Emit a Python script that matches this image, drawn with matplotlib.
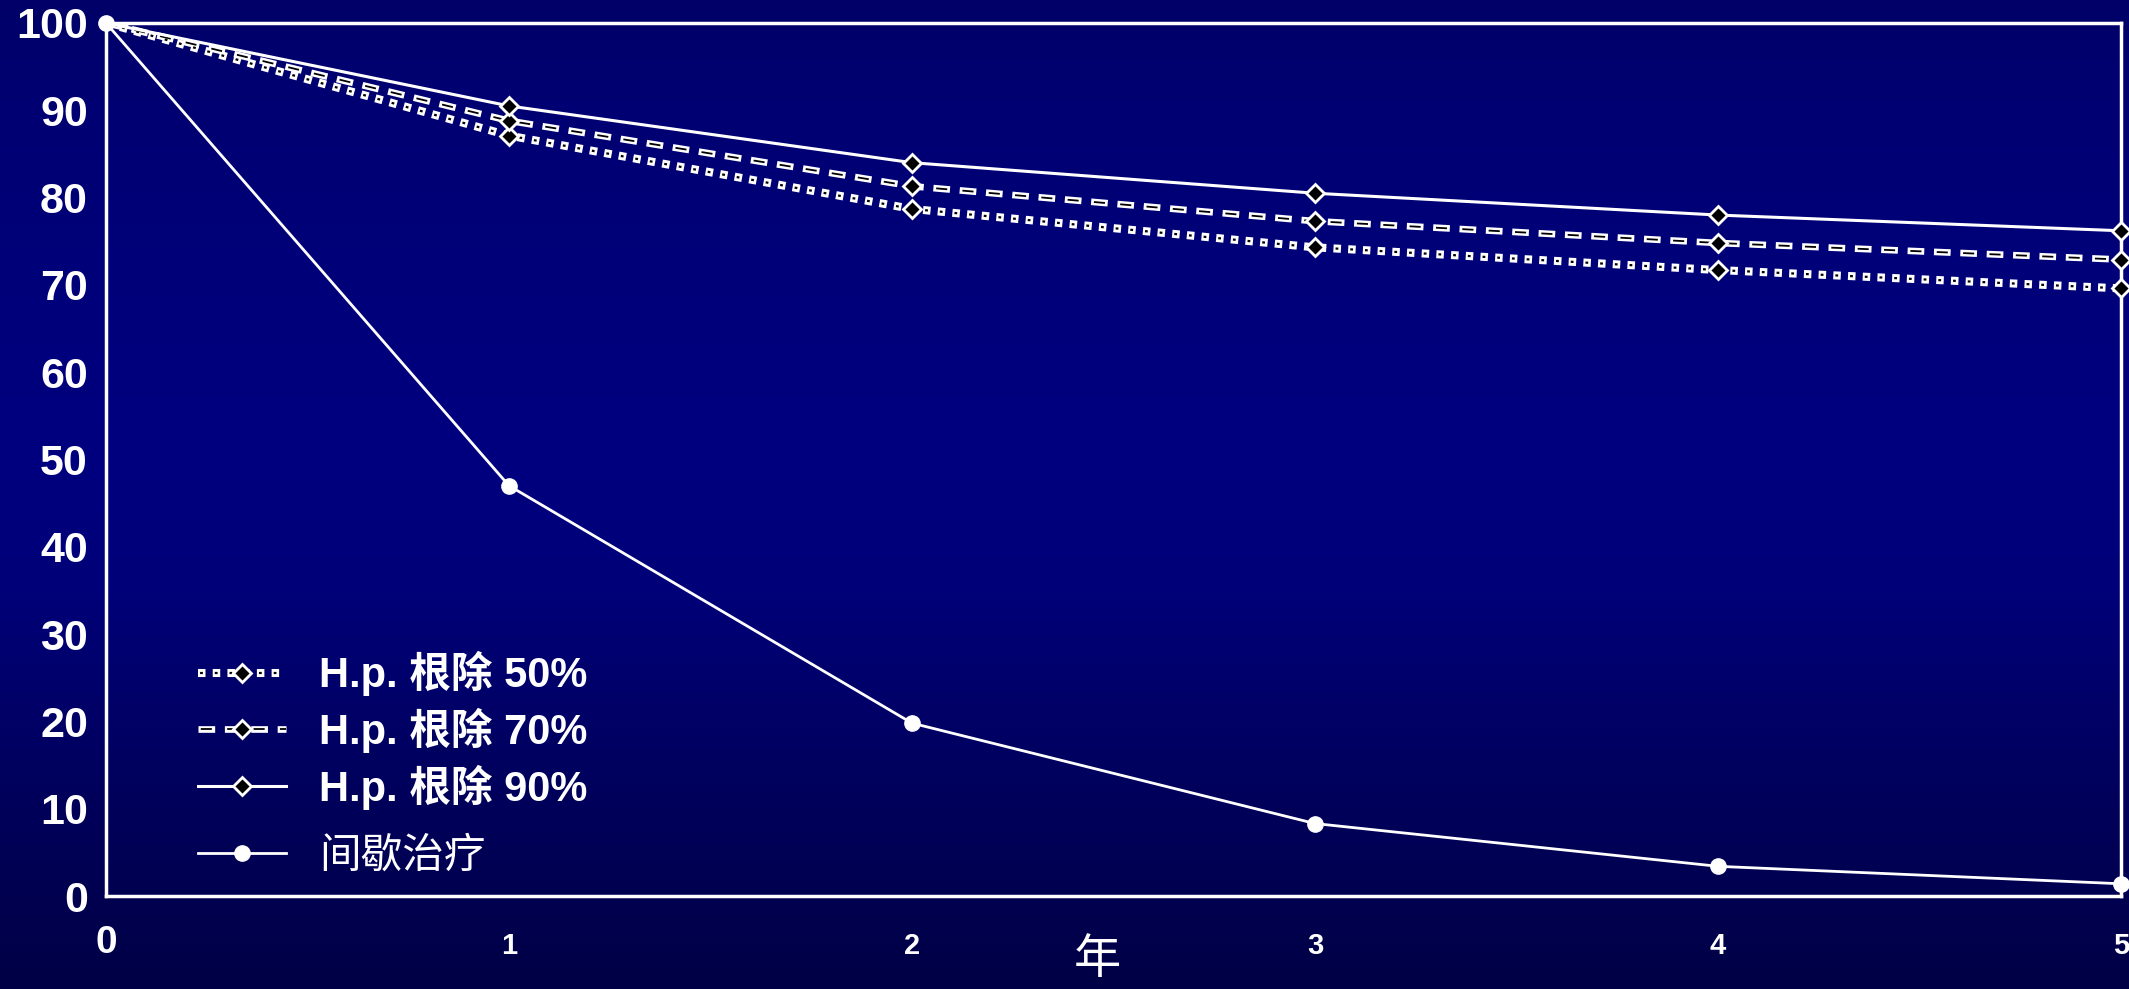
import matplotlib
matplotlib.use('Agg')
import matplotlib.pyplot as plt
import numpy as np

plt.rcParams['font.family'] = ['Liberation Sans', 'Noto Sans CJK SC']
plt.rcParams['lines.scale_dashes'] = False

# 随访年份与各组累计未复发率（%）
years = [0, 1, 2, 3, 4, 5]
hp50 = [100, 87.1, 78.7, 74.3, 71.7, 69.6]
hp70 = [100, 88.8, 81.3, 77.3, 74.8, 72.9]
hp90 = [100, 90.5, 84.0, 80.5, 78.0, 76.2]
intermittent = [100, 47.0, 19.8, 8.3, 3.4, 1.4]
labels = ['H.p. 根除 50%', 'H.p. 根除 70%', 'H.p. 根除 90%', '间歇治疗']
yticks = list(range(0, 101, 10))

W, H = 2129, 989
fig = plt.figure(figsize=(W / 100, H / 100), dpi=100)

# 背景：上下深蓝、中间偏亮的竖向渐变
bg = fig.add_axes([0, 0, 1, 1], zorder=-10)
rows = np.linspace(0, 1, 400)
blue = np.interp(rows, [0, 0.1, 0.45, 0.6, 0.8, 1.0],
                 [0x68, 0x72, 0x80, 0x78, 0x5c, 0x46]) / 255
img = np.zeros((400, 2, 3))
img[:, :, 2] = blue[:, None]
bg.imshow(img, aspect='auto', extent=[0, 1, 0, 1])
bg.axis('off')

ax = fig.add_axes([106 / W, 1 - 896 / H, (2121 - 106) / W, (896 - 23) / H])
ax.patch.set_alpha(0)

dia = dict(marker='D', markersize=9, markerfacecolor='black',
           markeredgecolor='white', markeredgewidth=2, clip_on=False,
           markevery=slice(1, None))

# 50%：白框黑芯的方点线
w50, = ax.plot(years, hp50, color='white', lw=5.8, ls=(0, (5.4, 5.2)),
               dash_capstyle='butt', zorder=3)
b50, = ax.plot(years, hp50, color='black', lw=1.6, ls=(9.1, (2, 8.6)),
               dash_capstyle='butt', zorder=4, **dia)
# 70%：白框黑芯的短划线
w70, = ax.plot(years, hp70, color='white', lw=4.8, ls=(0, (12, 7)),
               dash_capstyle='butt', zorder=3)
b70, = ax.plot(years, hp70, color='black', lw=1.3, ls=(17, (8, 11)),
               dash_capstyle='butt', zorder=4, **dia)
# 90%：白色实线
l90, = ax.plot(years, hp90, color='white', lw=2.2, zorder=4, **dia)
# 间歇治疗：白色实线加圆点
lint, = ax.plot(years, intermittent, color='white', lw=2, marker='o',
                markersize=11, markerfacecolor='white', markeredgecolor='white',
                clip_on=False, zorder=5)

ax.set_xlim(0, 5)
ax.set_ylim(0, 100)
for s in ax.spines.values():
    s.set_color('white')
    s.set_linewidth(2.5)

ax.set_yticks(yticks)
ax.set_yticklabels([str(v) for v in yticks], fontsize=31, fontweight='bold',
                   color='white')
ax.set_xticks(years[1:])
ax.set_xticklabels([str(v) for v in years[1:]], fontsize=21, fontweight='bold',
                   color='white')
ax.tick_params(axis='y', length=0, pad=13)
ax.tick_params(axis='x', length=0, pad=26)
ax.annotate('0', xy=(0, 0), xycoords=('data', 'axes fraction'),
            xytext=(0, -21), textcoords='offset points', ha='center', va='top',
            fontsize=28, fontweight='bold', color='white')

fig.text(1097 / W, 1 - 960 / H, '年', fontsize=34, color='white',
         ha='center', va='center', family=['Noto Sans CJK SC'])

leg_kw = dict(loc='upper left', bbox_transform=fig.transFigure, frameon=False,
              fontsize=30, handlelength=2.1, handletextpad=0.8,
              labelspacing=0.28, borderpad=0, borderaxespad=0, numpoints=1)
leg1 = ax.legend([(w50, b50), (w70, b70), l90], labels[:3],
                 bbox_to_anchor=(198 / W, 1 - 651 / H), **leg_kw)
for t in leg1.get_texts():
    t.set_color('white')
    t.set_fontweight('bold')
ax.add_artist(leg1)
leg2 = ax.legend([lint], labels[3:], bbox_to_anchor=(198 / W, 1 - 837 / H),
                 **leg_kw)
leg2.get_texts()[0].set_color('white')

fig.savefig('out.png', dpi=100)
